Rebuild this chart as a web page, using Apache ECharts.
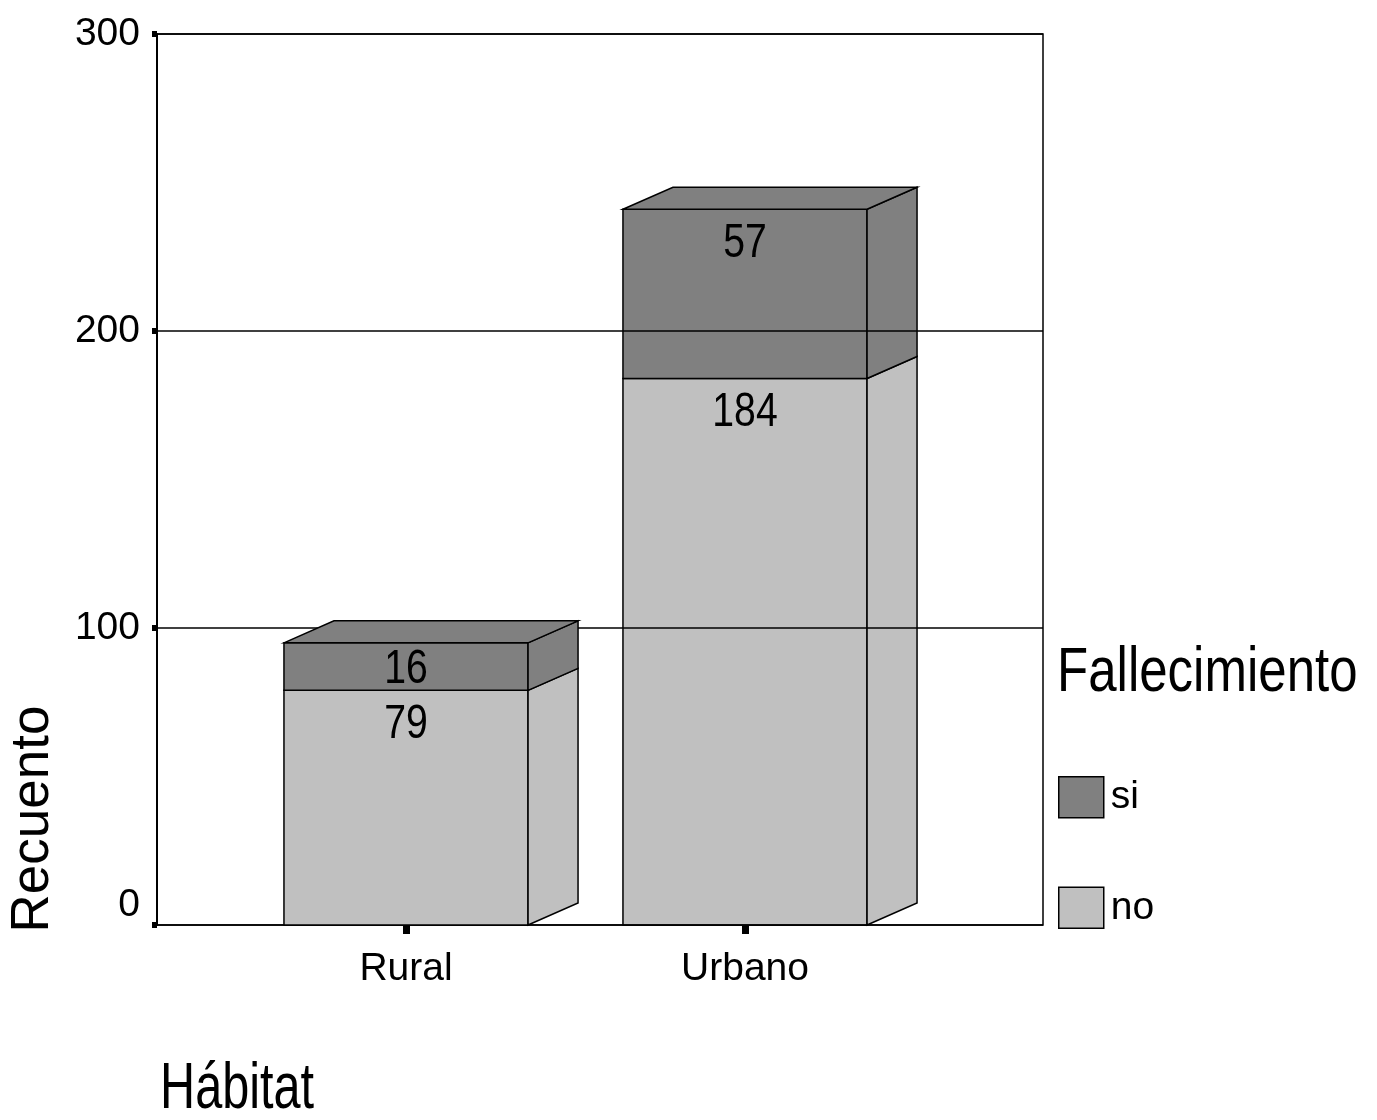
<!DOCTYPE html>
<html>
<head>
<meta charset="utf-8">
<title>Recuento por Hábitat</title>
<script src="https://cdn.jsdelivr.net/npm/echarts@6/dist/echarts.min.js"></script>
<style>
	html, body { margin: 0; padding: 0; background: #fff; }
	#chart { width: 1377px; height: 1120px; }
</style>
</head>
<body>
<div id="chart"></div>
<script>
// datos del gráfico
var categories = ['Rural', 'Urbano'];
var noValues = [79, 184];
var siValues = [16, 57];
var seriesNames = ['si', 'no'];
var yMin = 0, yMax = 300, yStep = 100;

var FONT = "'Liberation Sans', Arial, sans-serif";
var colorSi = '#808080';
var colorNo = '#c0c0c0';
var depthX = 50, depthY = 22; //profundidad 3D en px

function renderBar(params, api) {
	var cat = api.value(0);
	var no = api.value(1);
	var si = api.value(2);
	var base = api.coord([cat, 0]);
	var mid = api.coord([cat, no]);
	var top = api.coord([cat, no + si]);
	var band = api.size([1, 0])[0];
	var w = band * 0.72;
	var x0 = base[0] - w / 2, x1 = base[0] + w / 2;
	function st(fill) {
		return { fill: fill, stroke: '#000', lineWidth: 1.5 };
	}
	function labelY(yTop, yBot) {
		var h = yBot - yTop;
		return yTop + Math.min(h / 2 + 3, 34);
	}
	// texto estrecho (como Arial Narrow)
	function label(v, y) {
		return {
			type: 'text', x: base[0], y: y, scaleX: 0.8,
			style: { text: String(v), x: 0, y: 0, fontSize: 49, fontFamily: FONT, fill: '#000', align: 'center', verticalAlign: 'middle' }
		};
	}
	return {
		type: 'group',
		children: [
			// no - frente y lateral
			{ type: 'rect', shape: { x: x0, y: mid[1], width: w, height: base[1] - mid[1] }, style: st(colorNo) },
			{ type: 'polygon', shape: { points: [[x1, base[1]], [x1 + depthX, base[1] - depthY], [x1 + depthX, mid[1] - depthY], [x1, mid[1]]] }, style: st(colorNo) },
			// si - frente y lateral
			{ type: 'rect', shape: { x: x0, y: top[1], width: w, height: mid[1] - top[1] }, style: st(colorSi) },
			{ type: 'polygon', shape: { points: [[x1, mid[1]], [x1 + depthX, mid[1] - depthY], [x1 + depthX, top[1] - depthY], [x1, top[1]]] }, style: st(colorSi) },
			// tapa
			{ type: 'polygon', shape: { points: [[x0, top[1]], [x0 + depthX, top[1] - depthY], [x1 + depthX, top[1] - depthY], [x1, top[1]]] }, style: st(colorSi) },
			label(si, labelY(top[1], mid[1])),
			label(no, labelY(mid[1], base[1]))
		]
	};
}

var chart = echarts.init(document.getElementById('chart'));

var series = categories.map(function(c, i) {
	return {
		type: 'custom',
		name: c,
		xAxisIndex: 1,
		yAxisIndex: 1,
		z: i === 0 ? 3 : 1, // la rejilla pasa por delante de Urbano
		renderItem: renderBar,
		data: [[i, noValues[i], siValues[i]]]
	};
});
// series vacías solo para la leyenda
series.push({ type: 'bar', name: 'si', xAxisIndex: 1, yAxisIndex: 1, data: [], itemStyle: { color: colorSi, borderColor: '#000', borderWidth: 1.5 } });
series.push({ type: 'bar', name: 'no', xAxisIndex: 1, yAxisIndex: 1, data: [], itemStyle: { color: colorNo, borderColor: '#000', borderWidth: 1.5 } });

var labelFont = { fontSize: 39, fontFamily: FONT, color: '#000' };

var option = {
	animation: false,
	backgroundColor: '#fff',
	legend: {
		data: seriesNames,
		orient: 'vertical',
		left: 1058,
		top: 776,
		icon: 'rect',
		itemWidth: 45,
		itemHeight: 41,
		itemGap: 68,
		padding: 0,
		itemStyle: { borderColor: '#000', borderWidth: 1.5 },
		textStyle: { fontSize: 39, fontFamily: FONT, color: '#000', padding: [0, 0, 0, 2] }
	},
	graphic: [{
		type: 'text', x: 1057, y: 674, scaleX: 0.81,
		style: { text: 'Fallecimiento', fontSize: 63, fontFamily: FONT, fill: '#000', align: 'left', verticalAlign: 'middle' }
	}, {
		type: 'text', x: 160, y: 1090, scaleX: 0.76,
		style: { text: 'Hábitat', fontSize: 64, fontFamily: FONT, fill: '#000', align: 'left', verticalAlign: 'middle' }
	}, {
		type: 'text', x: 33, y: 819, rotation: Math.PI / 2,
		style: { text: 'Recuento', fontSize: 53, fontFamily: FONT, fill: '#000', align: 'center', verticalAlign: 'middle' }
	}],
	grid: [{
		left: 157, top: 34, width: 886, height: 891,
		show: true, borderColor: '#000', borderWidth: 1.5
	}, {
		left: 236.5, top: 34, width: 678, height: 891
	}],
	xAxis: [{
		gridIndex: 0, type: 'value', min: 0, max: 1, show: false
	}, {
		gridIndex: 1,
		type: 'category',
		data: categories,
		axisLine: { show: false },
		axisTick: { show: true, alignWithLabel: true, length: 9, lineStyle: { color: '#000', width: 7 } },
		axisLabel: Object.assign({ margin: 25 }, labelFont),
		splitLine: { show: false }
	}],
	yAxis: [{
		gridIndex: 0,
		type: 'value',
		min: yMin, max: yMax, interval: yStep,
		z: 2,
		axisLine: { show: true, lineStyle: { color: '#000', width: 2 } },
		axisTick: { show: true, length: 5, lineStyle: { color: '#000', width: 6 } },
		axisLabel: Object.assign({ margin: 17, verticalAlignMinLabel: 'bottom' }, labelFont),
		splitLine: { show: true, lineStyle: { color: '#000', width: 1.5 } }
	}, {
		gridIndex: 1, type: 'value', min: yMin, max: yMax, show: false
	}],
	series: series
};
chart.setOption(option);
</script>
</body>
</html>
